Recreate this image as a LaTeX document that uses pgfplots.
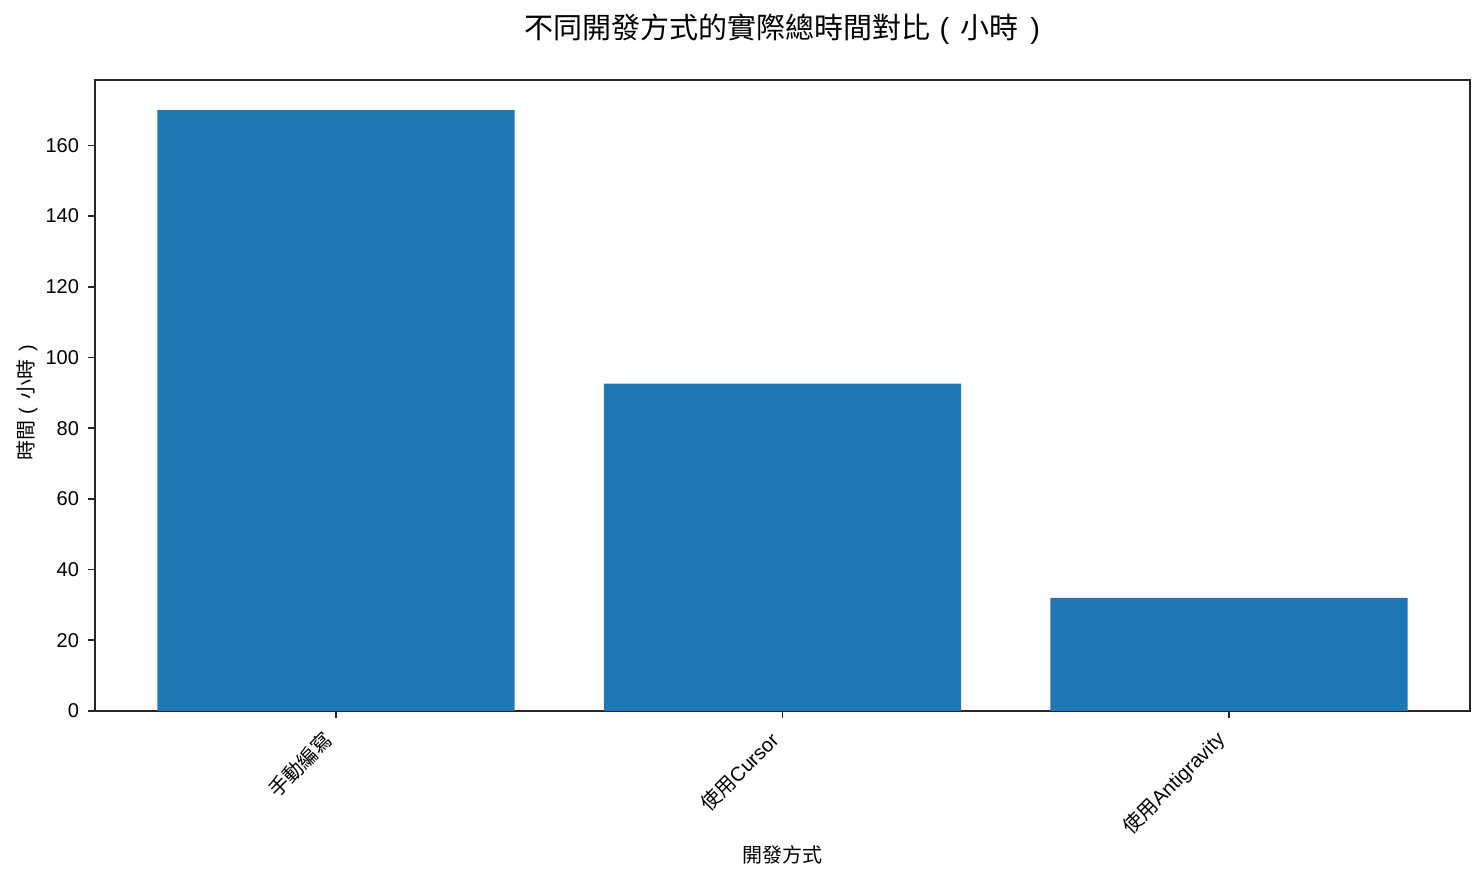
\documentclass[border=0pt]{standalone}
\usepackage{fontspec}
\usepackage{pgfplots}
\pgfplotsset{compat=1.18}
\setmainfont{Liberation Sans}
\newfontfamily\cjk{Noto Sans CJK TC}
\definecolor{barblue}{HTML}{1F77B4}
% spaced parentheses, as in the reference
\newcommand{\lp}{\hspace{0.3em}(\hspace{0.4em}}
\newcommand{\rp}{\hspace{0.4em})}
\begin{document}
\begin{tikzpicture}
  \begin{axis}[
    name=ax,
    scale only axis,
    width=687.5pt,
    height=315.5pt,
    ybar,
    bar width=0.8,
    xmin=-0.54, xmax=2.54,
    ymin=0, ymax=178.5,
    xtick=data,
    xticklabels={{\cjk 手動編寫},{\cjk 使用}Cursor,{\cjk 使用}Antigravity},
    ytick={0,20,...,160},
    tick align=outside,
    xtick pos=lower,
    ytick pos=left,
    major tick length=3.5pt,
    axis line style={line width=0.8pt, black!85},
    every tick/.style={line width=0.8pt, black!85},
    /pgf/number format/assume math mode=true,
    tick label style={font=\fontsize{10}{12}\selectfont},
    xticklabel style={xshift=-1.4pt, yshift=-6.7pt, rotate=45, anchor=east},
    yticklabel style={xshift=-1pt},
    title={{\cjk 不同開發方式的實際總時間對比}\lp{\cjk 小時}\rp},
    title style={font=\fontsize{14.5}{17}\selectfont, at={(axis description cs:0.5,1)}, anchor=center, yshift=19.5pt},
    xlabel={\cjk 開發方式},
    xlabel style={font=\fontsize{10}{12}\selectfont, at={(axis description cs:0.5,0)}, anchor=center, yshift=-72pt},
    ylabel={{\cjk 時間}\lp{\cjk 小時}\rp},
    ylabel style={font=\fontsize{10}{12}\selectfont, at={(axis description cs:0,0.5)}, anchor=center, yshift=34pt, xshift=-3.5pt},
  ]
    \addplot[fill=barblue, draw=none] coordinates {
      (0,170)
      (1,92.6)
      (2,32)
    };
  \end{axis}
  \path ([xshift=-47.5pt,yshift=-85.5pt]ax.south west) rectangle ([xshift=7pt,yshift=40pt]ax.north east);
\end{tikzpicture}
\end{document}
